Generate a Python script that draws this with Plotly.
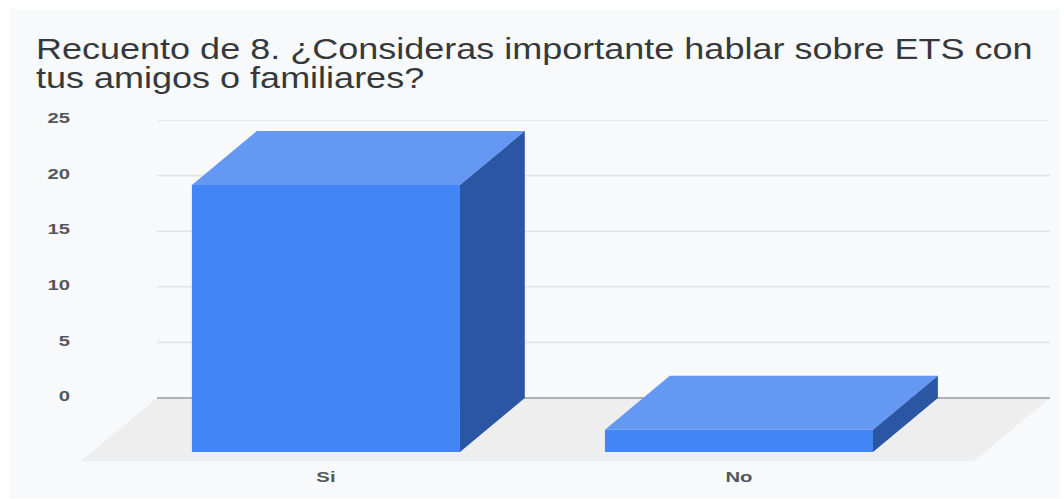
import plotly.graph_objects as go

# --- data ---
categories = ["Si", "No"]
values = [24, 2]
y_ticks = [0, 5, 10, 15, 20, 25]
title_lines = ["Recuento de 8. ¿Consideras importante hablar sobre ETS con",
               "tus amigos o familiares?"]

# --- 3D look (in axis units) ---
BAR_W = 0.649
DX, DY = 0.157, 4.856          # column depth
FLOOR_DX, FLOOR_DY = 0.184, 5.67
X_RANGE = [-0.593, 1.753]
Y_RANGE = [-FLOOR_DY, 25]
FRONT, TOP, SIDE = "#4285f4", "#6498f2", "#2a56a3"
FONT = "Liberation Sans"
TEXT = "#36393c"
TICK_TEXT = "#55585b"

fig = go.Figure()
xs = list(range(len(categories)))

# front faces (true bars)
fig.add_trace(go.Bar(x=xs, y=values, base=[-DY] * len(values),
                     width=BAR_W, marker=dict(color=FRONT, line=dict(width=0)),
                     showlegend=False, name="Recuento", hoverinfo="skip"))

# top and side faces, derived from the same values
for x, v in zip(xs, values):
    l, r = x - BAR_W / 2, x + BAR_W / 2
    fig.add_trace(go.Scatter(x=[l, r, r + DX, l + DX, l], y=[v - DY, v - DY, v, v, v - DY],
                             fill="toself", fillcolor=TOP, mode="none",
                             showlegend=False, hoverinfo="skip"))
    fig.add_trace(go.Scatter(x=[r, r + DX, r + DX, r, r], y=[-DY, 0, v, v - DY, -DY],
                             fill="toself", fillcolor=SIDE, mode="none",
                             showlegend=False, hoverinfo="skip"))

shapes = [
    dict(type="rect", xref="paper", yref="paper", x0=-0.0743, x1=1.0103, y0=-0.1085, y1=1.3255,
         fillcolor="#f8f9fa", line=dict(width=0), layer="below"),
    dict(type="path", xref="x", yref="y", layer="below", fillcolor="#eeeeee", line=dict(width=0),
         path=f"M {X_RANGE[0]} {-FLOOR_DY} L {X_RANGE[0] + FLOOR_DX} 0 "
              f"L {X_RANGE[1]} 0 L {X_RANGE[1] - FLOOR_DX} {-FLOOR_DY} Z"),
]
for t in y_ticks:
    shapes.append(dict(type="line", xref="x", yref="y", layer="below",
                       x0=X_RANGE[0] + FLOOR_DX, x1=X_RANGE[1], y0=t, y1=t,
                       line=dict(color="#9a9a9a" if t == 0 else "#e3e4e6", width=1.6)))

annotations = [
    dict(text=line, xref="paper", yref="paper", x=-0.0486, y=y, xanchor="left", yanchor="middle",
         showarrow=False, align="left", font=dict(family=FONT, size=30, color=TEXT))
    for line, y in zip(title_lines, [1.210, 1.125])
]

tick_font = dict(family=FONT, size=15, color=TICK_TEXT, weight="bold")
fig.update_layout(
    width=1064, height=499, autosize=False,
    margin=dict(l=81, r=14, t=120, b=38, pad=0),
    paper_bgcolor="#ffffff", plot_bgcolor="rgba(0,0,0,0)",
    showlegend=False, shapes=shapes, annotations=annotations,
    xaxis=dict(range=X_RANGE, tickmode="array", tickvals=xs, ticktext=categories,
               showgrid=False, zeroline=False, showline=False, ticks="",
               ticklabelstandoff=5, tickfont=tick_font),
    yaxis=dict(range=Y_RANGE, tickmode="array", tickvals=y_ticks,
               showgrid=False, zeroline=False, showline=False, ticks="",
               ticklabelstandoff=10, ticklabelshift=-2, tickfont=tick_font),
)

# the reference picture is stretched sideways: widen the glyphs to the same degree
post = """
document.body.style.margin='0';document.body.style.overflow='hidden';
setTimeout(function(){
  function stretch(el,k){
    var w=el.getComputedTextLength();
    el.setAttribute('lengthAdjust','spacingAndGlyphs');
    el.setAttribute('textLength',w*k);
  }
  document.querySelectorAll('.annotation-text').forEach(function(el){stretch(el,1.2);});
  document.querySelectorAll('.xtick text,.ytick text').forEach(function(el){stretch(el,1.35);});
},50);
"""
fig.write_html("out.html", config=dict(displayModeBar=False), post_script=post)
